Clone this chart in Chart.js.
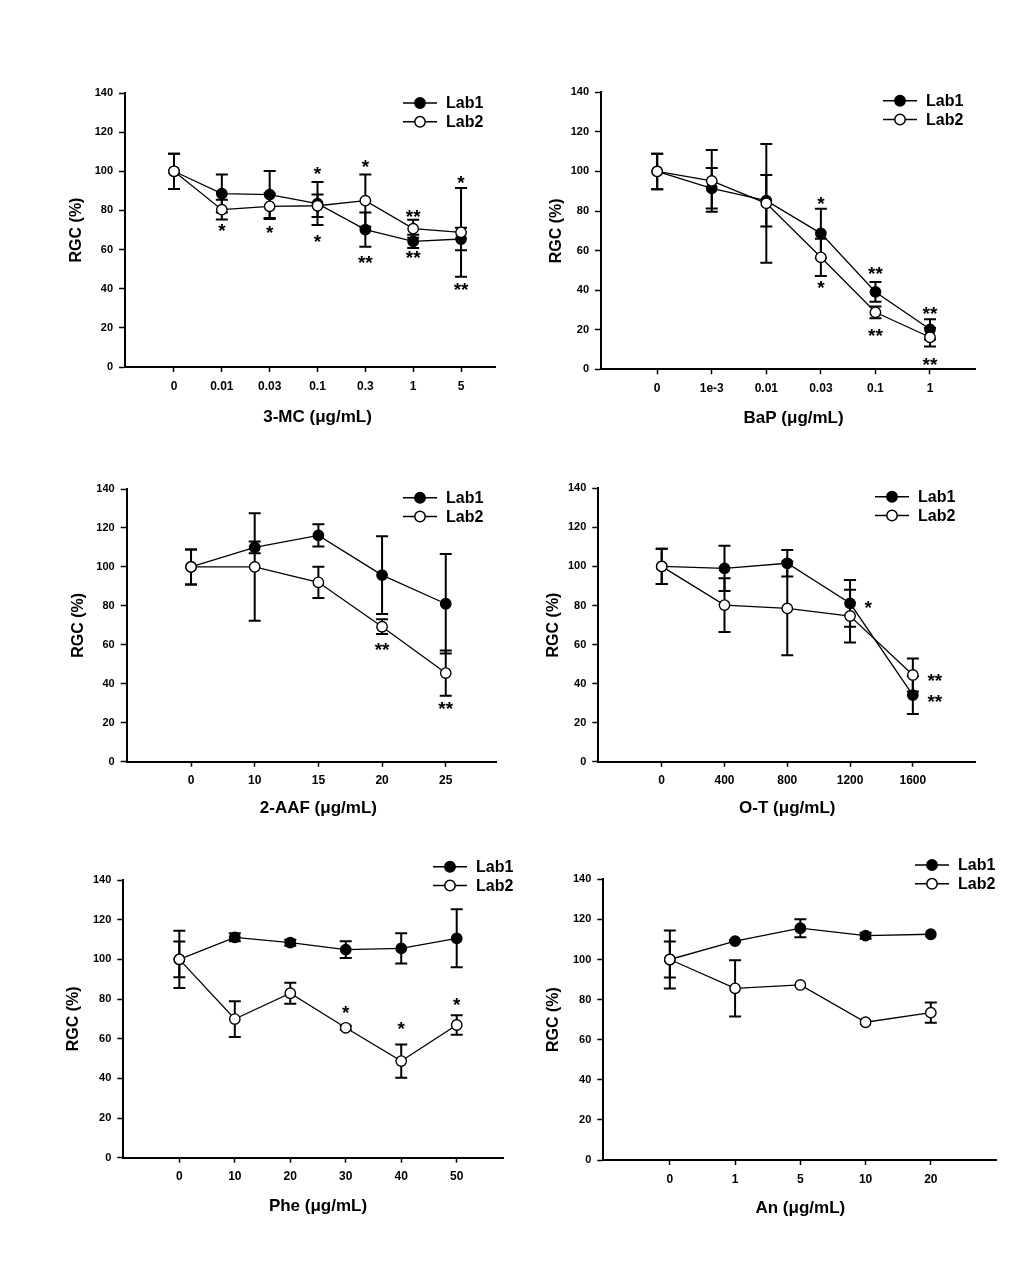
<!DOCTYPE html>
<html><head><meta charset="utf-8">
<script src="https://cdn.jsdelivr.net/npm/chart.js@4/dist/chart.umd.min.js"></script>
<style>
html,body{margin:0;padding:0;background:#fff;}
#wrap{position:relative;width:1026px;height:1267px;overflow:hidden;background:#fff;}
#wrap canvas{position:absolute;left:0;top:0;}
</style></head><body><div id="wrap"></div>
<script>
// ---------- DATA ----------
const seriesNames = ['Lab1', 'Lab2'];
const yTicks = [0, 20, 40, 60, 80, 100, 120, 140];

const mcCats = ['0', '0.01', '0.03', '0.1', '0.3', '1', '5'];
const mcLab1 = [100, 88.6, 88.1, 83.5, 70.2, 64.2, 65.4];
const mcLab1Err = [9, 9.7, 12, 11, 8.7, 3.4, 5.8];
const mcLab2 = [100, 80.4, 82.1, 82.4, 85, 70.7, 68.8];
const mcLab2Err = [9, 5, 6.5, 5.7, 13.3, 4.6, 22.7];
const mcSig = [[1, 71.9, '*'], [2, 71, '*'], [3, 101, '*'], [3, 66.4, '*'], [4, 104.6, '*'], [4, 55.7, '**'], [5, 79.2, '**'], [5, 57.9, '**'], [6, 96.2, '*'], [6, 41.6, '**']];

const bapCats = ['0', '1e-3', '0.01', '0.03', '0.1', '1'];
const bapLab1 = [100, 91.5, 85.2, 68.7, 39.1, 20.2];
const bapLab1Err = [9, 10.2, 13, 12.5, 5, 5.1];
const bapLab2 = [100, 95.2, 83.9, 56.6, 28.8, 16.2];
const bapLab2Err = [9, 15.6, 30, 9.4, 3, 4.7];
const bapSig = [[3, 85.9, '*'], [3, 43.5, '*'], [4, 50.7, '**'], [4, 19, '**'], [5, 30.3, '**'], [5, 4.7, '**']];

const aafCats = ['0', '10', '15', '20', '25'];
const aafLab1 = [100, 110, 116.2, 95.8, 81.1];
const aafLab1Err = [9, 3, 5.7, 20, 25.5];
const aafLab2 = [100, 100, 92.1, 69.3, 45.5];
const aafLab2Err = [9, 27.6, 8, 3.8, 11.6];
const aafSig = [[3, 59.6, '**'], [4, 29.4, '**']];

const otCats = ['0', '400', '800', '1200', '1600'];
const otLab1 = [100, 99, 101.6, 81.1, 34.1];
const otLab1Err = [9, 11.6, 6.8, 12, 9.7];
const otLab2 = [100, 80.2, 78.5, 74.6, 44.4];
const otLab2Err = [9, 13.8, 24, 13.5, 8.5];
const otSig = [[3.29, 81.1, '*'], [4.35, 43.9, '**'], [4.35, 32.8, '**']];

const pheCats = ['0', '10', '20', '30', '40', '50'];
const pheLab1 = [100, 111.1, 108.4, 104.9, 105.5, 110.6];
const pheLab1Err = [9, 2, 1.5, 4.2, 7.6, 14.6];
const pheLab2 = [100, 69.9, 82.9, 65.5, 48.7, 66.9];
const pheLab2Err = [14.4, 9, 5.3, 1, 8.4, 4.9];
const pheSig = [[3, 75.3, '*'], [4, 67.2, '*'], [5, 79.5, '*']];

const anCats = ['0', '1', '5', '10', '20'];
const anLab1 = [100, 109.2, 115.6, 111.9, 112.6];
const anLab1Err = [9, 0.5, 4.5, 1.5, 0];
const anLab2 = [100, 85.6, 87.3, 68.7, 73.5];
const anLab2Err = [14.5, 14, 0, 0, 5];
const anSig = [];

// ---------- PANELS (layout) ----------
const panels = [
  {cats: mcCats, l1: mcLab1, e1: mcLab1Err, l2: mcLab2, e2: mcLab2Err, sig: mcSig, xTitle: '3-MC (\u03bcg/mL)',
   left: 125, top: 93, right: 495, bottom: 367, xMin: -1.024, xMax: 6.71, yTitleOff: 48, xTitleOff: 50, legX: 92, legY: 10},
  {cats: bapCats, l1: bapLab1, e1: bapLab1Err, l2: bapLab2, e2: bapLab2Err, sig: bapSig, xTitle: 'BaP (\u03bcg/mL)',
   left: 601, top: 92.3, right: 975, bottom: 369.3, xMin: -1.03, xMax: 5.825, yTitleOff: 44, xTitleOff: 49, legX: 92, legY: 8.4},
  {cats: aafCats, l1: aafLab1, e1: aafLab1Err, l2: aafLab2, e2: aafLab2Err, sig: aafSig, xTitle: '2-AAF (\u03bcg/mL)',
   left: 126.7, top: 489, right: 496.7, bottom: 761.7, xMin: -1.01, xMax: 4.80, yTitleOff: 48.4, xTitleOff: 46.5, legX: 93.7, legY: 8.7},
  {cats: otCats, l1: otLab1, e1: otLab1Err, l2: otLab2, e2: otLab2Err, sig: otSig, xTitle: 'O-T (\u03bcg/mL)',
   left: 598.3, top: 488.3, right: 975, bottom: 761.7, xMin: -1.01, xMax: 4.99, yTitleOff: 44.6, xTitleOff: 46.5, legX: 100, legY: 8.4},
  {cats: pheCats, l1: pheLab1, e1: pheLab1Err, l2: pheLab2, e2: pheLab2Err, sig: pheSig, xTitle: 'Phe (\u03bcg/mL)',
   left: 123.3, top: 880, right: 503.3, bottom: 1157.7, xMin: -1.01, xMax: 5.84, yTitleOff: 49.6, xTitleOff: 49, legX: 70.3, legY: -13.3},
  {cats: anCats, l1: anLab1, e1: anLab1Err, l2: anLab2, e2: anLab2Err, sig: anSig, xTitle: 'An (\u03bcg/mL)',
   left: 603.3, top: 879.3, right: 996.7, bottom: 1160, xMin: -1.02, xMax: 5.01, yTitleOff: 50, xTitleOff: 48, legX: 81.7, legY: -14.3}
];

Chart.defaults.font.family = "'Liberation Sans', Arial, sans-serif";
Chart.defaults.color = '#000';

const W = 1026, H = 1267, YW = 40, XH = 40;
const wrap = document.getElementById('wrap');

const errPlugin = {
  id: 'errbars',
  beforeDatasetsDraw(chart) {
    const ctx = chart.ctx, xs = chart.scales.x, ys = chart.scales.y;
    ctx.save();
    ctx.strokeStyle = '#000';
    ctx.lineWidth = 2;
    ctx.lineCap = 'butt';
    chart.data.datasets.forEach(ds => {
      ds.data.forEach((pt, i) => {
        const e = ds.err[i];
        if (!e) return;
        const x = xs.getPixelForValue(pt.x);
        const y1 = ys.getPixelForValue(pt.y + e), y2 = ys.getPixelForValue(pt.y - e);
        ctx.beginPath();
        ctx.moveTo(x, y1); ctx.lineTo(x, y2);
        ctx.moveTo(x - 6, y1); ctx.lineTo(x + 6, y1);
        ctx.moveTo(x - 6, y2); ctx.lineTo(x + 6, y2);
        ctx.stroke();
      });
    });
    ctx.restore();
  }
};

const decoPlugin = {
  id: 'deco',
  afterDraw(chart) {
    const p = chart.options.plugins.deco.panel;
    const ctx = chart.ctx, xs = chart.scales.x, ys = chart.scales.y, ca = chart.chartArea;
    ctx.save();
    ctx.fillStyle = '#000';
    // significance asterisks
    const fs = 19;
    ctx.font = 'bold ' + fs + "px 'Liberation Sans', Arial, sans-serif";
    ctx.textAlign = 'center';
    ctx.textBaseline = 'alphabetic';
    p.sig.forEach(s => {
      const x = xs.getPixelForValue(s[0]);
      const y = ys.getPixelForValue(s[1]);
      ctx.fillText(s[2], x, y + fs * 0.56);
    });
    // x title
    ctx.font = "bold 17px 'Liberation Sans', Arial, sans-serif";
    ctx.textBaseline = 'middle';
    const cx = (xs.getPixelForValue(0) + xs.getPixelForValue(p.cats.length - 1)) / 2;
    ctx.fillText(p.xTitle, cx, ca.bottom + p.xTitleOff);
    // y title
    ctx.save();
    ctx.translate(ca.left - p.yTitleOff, (ca.top + ca.bottom) / 2);
    ctx.rotate(-Math.PI / 2);
    ctx.font = "bold 16px 'Liberation Sans', Arial, sans-serif";
    ctx.fillText('RGC (%)', 0, 0);
    ctx.restore();
    // legend
    const lx = ca.right - p.legX;
    ctx.font = "bold 16px 'Liberation Sans', Arial, sans-serif";
    ctx.textAlign = 'left';
    chart.data.datasets.forEach((ds, k) => {
      const y = ca.top + p.legY + k * 18.8;
      ctx.strokeStyle = '#000';
      ctx.lineWidth = 1.5;
      ctx.beginPath(); ctx.moveTo(lx, y); ctx.lineTo(lx + 34, y); ctx.stroke();
      ctx.beginPath(); ctx.arc(lx + 17, y, 5.2, 0, Math.PI * 2);
      ctx.fillStyle = ds.pointBackgroundColor; ctx.fill(); ctx.stroke();
      ctx.fillStyle = '#000';
      ctx.fillText(ds.label, lx + 43, y + 1);
    });
    ctx.restore();
  }
};

panels.forEach(p => {
  const cv = document.createElement('canvas');
  cv.width = W; cv.height = H;
  cv.style.width = W + 'px'; cv.style.height = H + 'px';
  wrap.appendChild(cv);
  const mk = (vals, errs, k) => ({
    label: seriesNames[k],
    data: vals.map((v, i) => ({x: i, y: v})),
    err: errs,
    borderColor: '#000', borderWidth: 1.3, backgroundColor: '#000',
    pointBackgroundColor: k === 0 ? '#000' : '#fff', pointBorderColor: '#000',
    pointBorderWidth: 1.4, pointRadius: 5.2, pointHoverRadius: 5.2,
    tension: 0, fill: false, order: k === 0 ? 2 : 1, clip: false
  });
  new Chart(cv, {
    type: 'line',
    data: {datasets: [mk(p.l1, p.e1, 0), mk(p.l2, p.e2, 1)]},
    options: {
      responsive: false, animation: false, devicePixelRatio: 1,
      events: [],
      layout: {padding: {left: p.left - YW, top: p.top, right: W - p.right, bottom: H - p.bottom - XH}},
      plugins: {legend: {display: false}, tooltip: {enabled: false}, deco: {panel: p}},
      scales: {
        x: {
          type: 'linear', min: p.xMin, max: p.xMax,
          afterFit(s) { s.height = XH; },
          afterBuildTicks(s) { s.ticks = p.cats.map((c, i) => ({value: i})); },
          ticks: {autoSkip: false, maxRotation: 0, callback: v => p.cats[v], color: '#000',
                  font: {size: 12, weight: 'bold'}, padding: 7},
          grid: {drawOnChartArea: false, drawTicks: true, tickLength: 5, tickColor: '#000', tickWidth: 1.5},
          border: {display: true, color: '#000', width: 2}
        },
        y: {
          min: 0, max: 140,
          afterFit(s) { s.width = YW; },
          afterBuildTicks(s) { s.ticks = yTicks.map(v => ({value: v})); },
          ticks: {color: '#000', font: {size: 11, weight: 'bold'}, padding: 6},
          grid: {drawOnChartArea: false, drawTicks: true, tickLength: 6, tickColor: '#000', tickWidth: 1.5},
          border: {display: true, color: '#000', width: 2}
        }
      }
    },
    plugins: [errPlugin, decoPlugin]
  });
});
</script></body></html>
